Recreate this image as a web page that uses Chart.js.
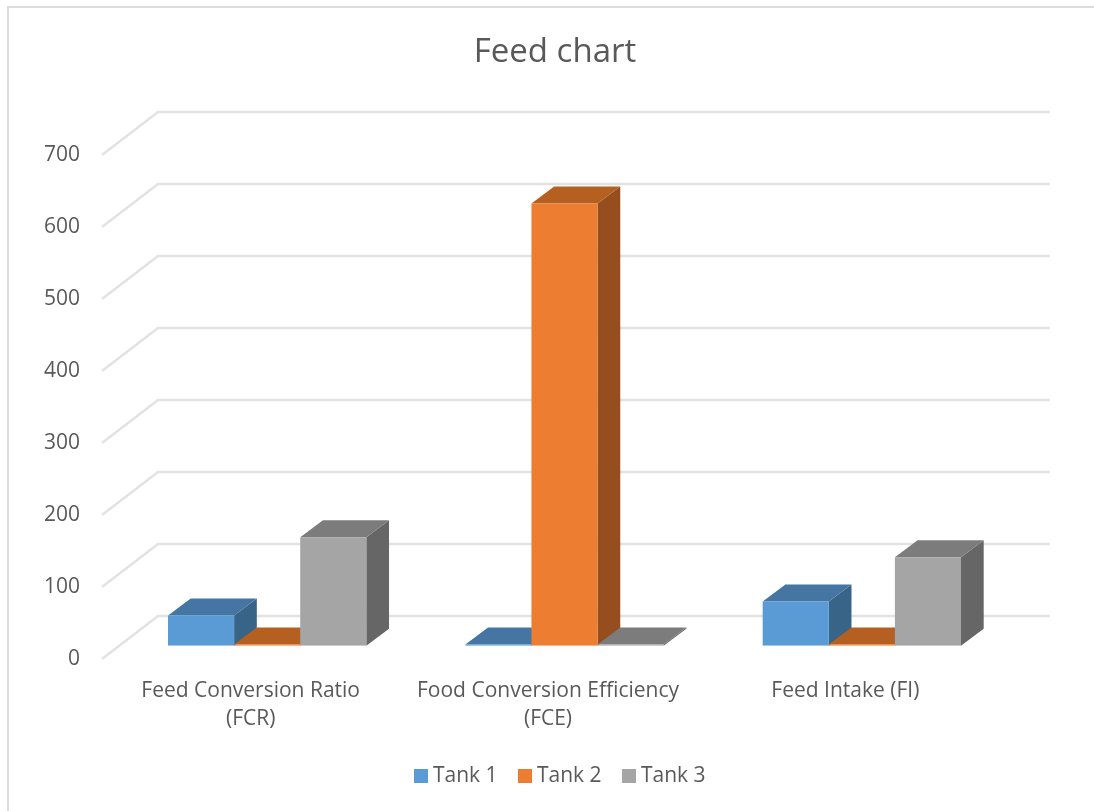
<!DOCTYPE html>
<html>
<head>
<meta charset="utf-8">
<title>Feed chart</title>
<script src="https://cdn.jsdelivr.net/npm/chart.js@4"></script>
<style>
  html, body { margin: 0; padding: 0; background: #fff; overflow: hidden; }
  canvas { display: block; }
</style>
</head>
<body>
<canvas id="feedChart" width="1094" height="811"></canvas>
<script>
// Data
const categories = [['Feed Conversion Ratio', '(FCR)'], ['Food Conversion Efficiency', '(FCE)'], 'Feed Intake (FI)'];
const seriesNames = ['Tank 1', 'Tank 2', 'Tank 3'];
const tank1 = [42, 1.5, 61.5];
const tank2 = [1.5, 614, 1.5];
const tank3 = [150.5, 1.5, 123];

// Face colours per series
const frontColors = ['#5B9BD5', '#ED7D31', '#A5A5A5'];
const topColors = ['#4475A3', '#B56020', '#7C7C7C'];
const sideColors = ['#386488', '#964E1E', '#666666'];

const textColor = '#595959';
const fontFamily = '"Open Sans", sans-serif';

// 3D offsets in pixels
const wall = { dx: 56, dy: 43 };
const barShift = { dx: 16.5, dy: 13.3 };
const depth = { dx: 22.7, dy: 17 };

function fillPoly(ctx, color, pts) {
    ctx.fillStyle = color;
    ctx.beginPath();
    pts.forEach((p, i) => i ? ctx.lineTo(p[0], p[1]) : ctx.moveTo(p[0], p[1]));
    ctx.closePath();
    ctx.fill();
}

// Outer frame (only top and left edges fall inside the canvas)
const framePlugin = {
    id: 'frame',
    beforeDraw(chart) {
        const ctx = chart.ctx;
        ctx.save();
        ctx.strokeStyle = '#DCDCDC';
        ctx.lineWidth = 2;
        ctx.beginPath();
        ctx.moveTo(8, chart.height);
        ctx.lineTo(8, 7);
        ctx.lineTo(chart.width, 7);
        ctx.stroke();
        ctx.restore();
    }
};

// Side wall and back wall gridlines, then top and side faces of the bars.
// Chart.js paints datasets last to first, so these go down before any front face.
const extrudePlugin = {
    id: 'extrude',
    beforeDatasetsDraw(chart) {
        const ctx = chart.ctx;
        const area = chart.chartArea;
        const y = chart.scales.y;
        ctx.save();
        ctx.strokeStyle = '#E2E2E2';
        ctx.lineWidth = 2.5;
        y.ticks.forEach(t => {
            const py = y.getPixelForValue(t.value);
            ctx.beginPath();
            ctx.moveTo(area.left, py);
            ctx.lineTo(area.left + wall.dx, py - wall.dy);
            ctx.lineTo(area.right + wall.dx, py - wall.dy);
            ctx.stroke();
        });
        ctx.translate(barShift.dx, -barShift.dy);
        chart.data.datasets.forEach((ds, i) => {
            chart.getDatasetMeta(i).data.forEach(bar => {
                const l = bar.x - bar.width / 2;
                const r = bar.x + bar.width / 2;
                fillPoly(ctx, sideColors[i], [[r, bar.y], [r + depth.dx, bar.y - depth.dy], [r + depth.dx, bar.base - depth.dy], [r, bar.base]]);
                fillPoly(ctx, topColors[i], [[l, bar.y], [r, bar.y], [r + depth.dx, bar.y - depth.dy], [l + depth.dx, bar.y - depth.dy]]);
            });
        });
        ctx.restore();
    },
    // front faces sit on the floor, in front of the back wall
    beforeDatasetDraw(chart) {
        chart.ctx.save();
        chart.ctx.translate(barShift.dx, -barShift.dy);
    },
    afterDatasetDraw(chart) {
        chart.ctx.restore();
    }
};

// Legend with a tighter gap between swatch and text than the built-in one
const keyPlugin = {
    id: 'key',
    afterDraw(chart) {
        const ctx = chart.ctx;
        ctx.save();
        ctx.font = '21px ' + fontFamily;
        ctx.textBaseline = 'middle';
        chart.data.datasets.forEach((ds, i) => {
            const x = 414 + i * 104;
            ctx.fillStyle = frontColors[i];
            ctx.fillRect(x, 769, 14, 14);
            ctx.fillStyle = textColor;
            ctx.fillText(ds.label, x + 19, 776);
        });
        ctx.restore();
    }
};

const feedCtx = document.getElementById('feedChart').getContext('2d');
const feedChart = new Chart(feedCtx, {
    type: 'bar',
    data: {
        labels: categories,
        datasets: [
            { label: seriesNames[0], data: tank1, backgroundColor: frontColors[0] },
            { label: seriesNames[1], data: tank2, backgroundColor: frontColors[1] },
            { label: seriesNames[2], data: tank3, backgroundColor: frontColors[2] }
        ]
    },
    options: {
        responsive: false,
        animation: false,
        layout: { padding: { left: 16, top: 33 } },
        datasets: { bar: { barPercentage: 1, categoryPercentage: 0.667, borderWidth: 0 } },
        scales: {
            x: {
                grid: { display: false, drawTicks: false },
                border: { display: false },
                ticks: {
                    color: textColor,
                    padding: 18,
                    maxRotation: 0,
                    autoSkip: false,
                    font: { family: fontFamily, size: 21, lineHeight: 1.34 }
                },
                afterFit(scale) { scale.height = 152; }
            },
            y: {
                min: 0,
                max: 700,
                grid: { display: false, drawTicks: false },
                border: { display: false },
                ticks: {
                    stepSize: 100,
                    color: textColor,
                    padding: 22,
                    font: { family: fontFamily, size: 21 }
                },
                afterFit(scale) { scale.width = 86; }
            },
            // empty axis that reserves the space right of the plot
            gutter: {
                position: 'right',
                grid: { display: false },
                border: { display: false },
                ticks: { display: false },
                afterFit(scale) { scale.width = 100; }
            }
        },
        plugins: {
            legend: { display: false },
            tooltip: { enabled: false },
            title: {
                display: true,
                text: 'Feed chart',
                color: textColor,
                padding: { top: 0, bottom: 82.4 },
                font: { family: fontFamily, size: 33, weight: 'normal' }
            }
        }
    },
    plugins: [framePlugin, extrudePlugin, keyPlugin]
});
</script>
</body>
</html>
